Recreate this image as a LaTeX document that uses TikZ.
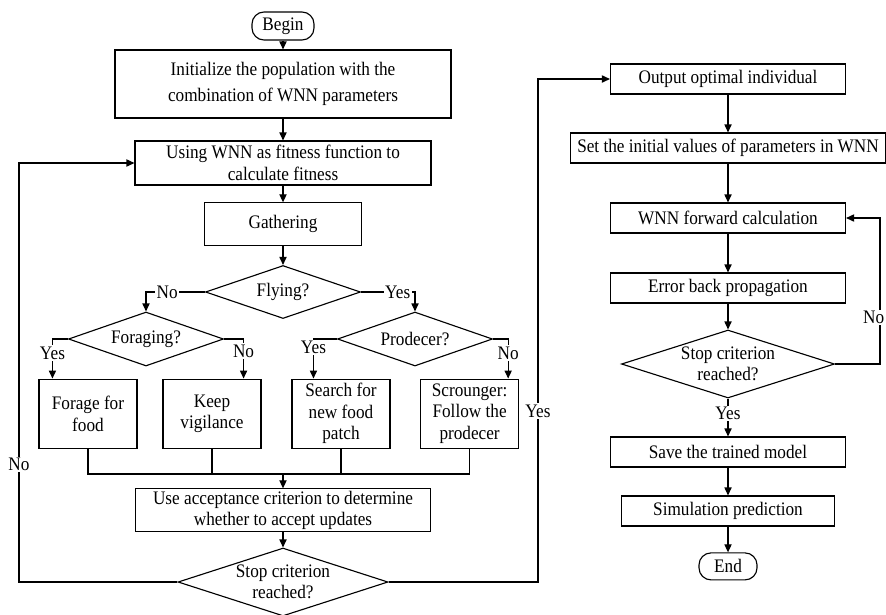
\documentclass[tikz,border=0pt]{standalone}
\usepackage{fontspec}
\setmainfont{Liberation Serif}[FakeStretch=0.9]
\usepackage{tikz}
\usetikzlibrary{
    arrows.meta,
    positioning,
    calc,
    shapes.geometric
}
\tikzset{
    terminal/.style={
        draw,
        rounded corners=3mm,
        minimum width=15.5mm,
        minimum height=7mm,
        inner sep=0pt
    }
}
\tikzset{
    process/.style={
        draw,
        align=center,
        inner sep=0pt,
        minimum height=7.5mm
    }
}
\tikzset{
    decision/.style={
        draw,
        diamond,
        aspect=2.9,
        inner sep=0pt,
        align=center
    }
}
\tikzset{
    flow/.style={
        draw,
        -{Triangle[length=2mm,width=1.8mm]}
    }
}
\tikzset{
    branchlabel/.style={
        fill=white,
        inner sep=1pt
    }
}

\begin{document}
\begin{tikzpicture}[
    line width=0.8pt,
    font=\fontsize{13.6pt}{15.3pt}\selectfont
]

\useasboundingbox (0,0) rectangle (221.5mm,-153.5mm);

% ------------------------------------------------------------
% Left column: optimisation of the WNN parameters
% ------------------------------------------------------------

\node[terminal] (begin) at (70.75mm,-6.5mm) {Begin};
\node[process, minimum width=84mm, minimum height=17mm] (init) at (70.75mm,-21mm)
    {Initialize the population with the\\[1mm]combination of WNN parameters};
\node[process, minimum width=74mm, minimum height=11mm] (fitness) at (70.75mm,-40.75mm)
    {Using WNN as fitness function to\\calculate fitness};
\node[process, minimum width=39.25mm, minimum height=10.75mm] (gather) at (70.75mm,-56.1mm) {Gathering};
\node[decision, minimum width=38.75mm, minimum height=13.25mm] (flying) at (70.75mm,-73mm) {Flying?};

\node[decision, minimum width=38.75mm, minimum height=13.5mm] (forag) at (36.5mm,-84.75mm) {Foraging?};
\node[decision, minimum width=38.75mm, minimum height=13.5mm] (prod) at (103.75mm,-84.75mm) {Prodecer?};

\node[process, minimum width=24.5mm, minimum height=17.25mm] (forage) at (22mm,-103.4mm) {Forage for\\food};
\node[process, minimum width=24.5mm, minimum height=17.25mm] (keep) at (53mm,-103.4mm) {Keep\\vigilance};
\node[process, minimum width=24.5mm, minimum height=17.25mm] (search) at (85.25mm,-103.4mm) {Search for\\new food\\patch};
\node[process, minimum width=24.5mm, minimum height=17.25mm] (scroun) at (117.4mm,-103.4mm) {Scrounger:\\Follow the\\prodecer};

\coordinate (join) at (70.75mm,-118.5mm);
\node[process, minimum width=73.75mm, minimum height=10.75mm] (accept) at (70.75mm,-127.6mm)
    {Use acceptance criterion to determine\\whether to accept updates};
\node[decision, minimum width=52.5mm, minimum height=17mm] (stop) at (70.75mm,-145.5mm) {Stop criterion\\reached?};

% ------------------------------------------------------------
% Right column: training of the WNN
% ------------------------------------------------------------

\node[process, minimum width=58.75mm] (output) at (182mm,-19.75mm) {Output optimal individual};
\node[process, minimum width=78.8mm] (setinit) at (182mm,-37mm) {Set the initial values of parameters in WNN};
\node[process, minimum width=58.75mm] (forward) at (182mm,-54.5mm) {WNN forward calculation};
\node[process, minimum width=58.75mm] (backprop) at (182mm,-72mm) {Error back propagation};
\node[decision, minimum width=53.25mm, minimum height=17mm] (stoptrain) at (182mm,-91mm) {Stop criterion\\reached?};
\node[process, minimum width=58.75mm] (save) at (182mm,-113mm) {Save the trained model};
\node[process, minimum width=53.25mm] (simul) at (182mm,-127.75mm) {Simulation prediction};
\node[terminal, minimum width=14.5mm, minimum height=6.75mm] (end) at (182mm,-141.6mm) {End};

% Straight steps
\foreach \a/\b in {begin/init, init/fitness, fitness/gather, gather/flying, accept/stop,
                   output/setinit, setinit/forward, forward/backprop, backprop/stoptrain,
                   save/simul, simul/end} {
    \draw[flow] (\a) -- (\b);
}

% Branches of the search
\draw[flow] (flying.west) -| node[branchlabel, pos=0.32] {No} (forag.north);
\draw[flow] (flying.east) -| node[branchlabel, pos=0.34] {Yes} (prod.north);
\draw[flow] (forag.west) -| node[branchlabel, pos=0.68] {Yes} ($(forage.north west)+(3.5mm,0)$);
\draw[flow] (forag.east) -| node[branchlabel, pos=0.65] {No} ($(keep.north east)+(-4.5mm,0)$);
\draw[flow] (prod.west) -| node[branchlabel, pos=0.61] {Yes} ($(search.north west)+(5.5mm,0)$);
\draw[flow] (prod.east) -| node[branchlabel, pos=0.68] {No} ($(scroun.north east)+(-2.75mm,0)$);

% Merge of the four behaviours
\foreach \blk in {forage, keep, search, scroun} {
    \draw (\blk.south) |- (join);
}
\draw[flow] (join) -- (accept.north);

% Loops
\coordinate (noleft) at (4.75mm,-40.75mm);
\coordinate (yesright) at (134.5mm,-19.75mm);
\coordinate (noright) at (220mm,-54.5mm);
\draw[flow] (stop.west) -| node[branchlabel, pos=0.64] {No} (noleft) -- (fitness.west);
\draw[flow] (stop.east) -| node[branchlabel, pos=0.67] {Yes} (yesright) -- (output.west);
\draw[flow] (stoptrain.east) -| node[branchlabel, pos=0.66, xshift=-1.6mm] {No} (noright) -- (forward.east);
\draw[flow] (stoptrain.south) -- node[branchlabel, pos=0.4] {Yes} (save.north);

\end{tikzpicture}
\end{document}
